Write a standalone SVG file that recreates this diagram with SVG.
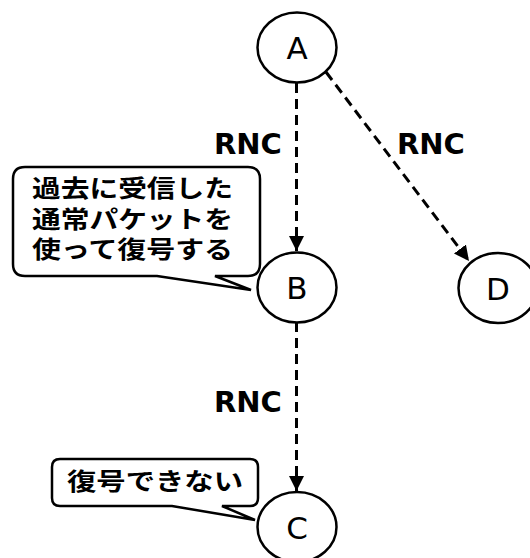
<svg xmlns="http://www.w3.org/2000/svg" width="530" height="558" viewBox="0 0 530 558">
<style>
.node{fill:#fff;stroke:#000;stroke-width:2.5}
.nl{font-family:"DejaVu Sans",sans-serif;font-size:31px;fill:#000;text-anchor:middle}
.edge{fill:none;stroke:#000;stroke-width:3;stroke-dasharray:10 6}
.el{font-family:"DejaVu Sans",sans-serif;font-weight:bold;font-size:29px;fill:#000}
.call{fill:#fff;stroke:#000;stroke-width:2.5;stroke-linejoin:miter}
.ct{font-family:"Noto Sans CJK JP","Noto Sans CJK SC",sans-serif;font-weight:bold;font-size:24px;fill:#000}
</style>
<defs>
<marker id="arr" markerUnits="userSpaceOnUse" markerWidth="16" markerHeight="16" refX="15" refY="7.5" orient="auto">
<path d="M0,0 L15,7.5 L0,15 Z" fill="#000"/>
</marker>
</defs>
<rect width="530" height="558" fill="#fff"/>
<g id="connectors">
<path class="edge" d="M296.5,83 L296.5,251" marker-end="url(#arr)"/>
<path class="edge" d="M326,72 L469,261" marker-end="url(#arr)"/>
<path class="edge" d="M296.5,322 L296.5,491" marker-end="url(#arr)"/>
<text class="el" x="214" y="154">RNC</text>
<text class="el" x="397" y="154">RNC</text>
<text class="el" x="214" y="412">RNC</text>
</g>
<g id="A"><ellipse class="node" cx="297" cy="47.5" rx="39.5" ry="35"/><text class="nl" x="297" y="59">A</text></g>
<g id="B"><ellipse class="node" cx="297" cy="287.5" rx="39.5" ry="35"/><text class="nl" x="297" y="299">B</text></g>
<g id="D"><ellipse class="node" cx="498" cy="288" rx="39.5" ry="35"/><text class="nl" x="498" y="299.5">D</text></g>
<g id="C"><ellipse class="node" cx="297" cy="527" rx="39.5" ry="35"/><text class="nl" x="297" y="538.5">C</text></g>
<g id="callout1">
<path class="call" d="M25,167 H248 Q260,167 260,179 V264 Q260,276 248,276 H215 L251,290 L157,276 H25 Q13,276 13,264 V179 Q13,167 25,167 Z"/>
<text class="ct" x="32" y="197" textLength="201" lengthAdjust="spacingAndGlyphs">過去に受信した</text>
<text class="ct" x="32" y="227.5" textLength="201" lengthAdjust="spacingAndGlyphs">通常パケットを</text>
<text class="ct" x="32" y="258" textLength="201" lengthAdjust="spacingAndGlyphs">使って復号する</text>
</g>
<g id="callout2">
<path class="call" d="M60,459 H250 Q258,459 258,467 V498 Q258,506 250,506 H222 L255,520 L172,506 H60 Q52,506 52,498 V467 Q52,459 60,459 Z"/>
<text class="ct" x="67" y="490" textLength="176" lengthAdjust="spacingAndGlyphs">復号できない</text>
</g>
</svg>
